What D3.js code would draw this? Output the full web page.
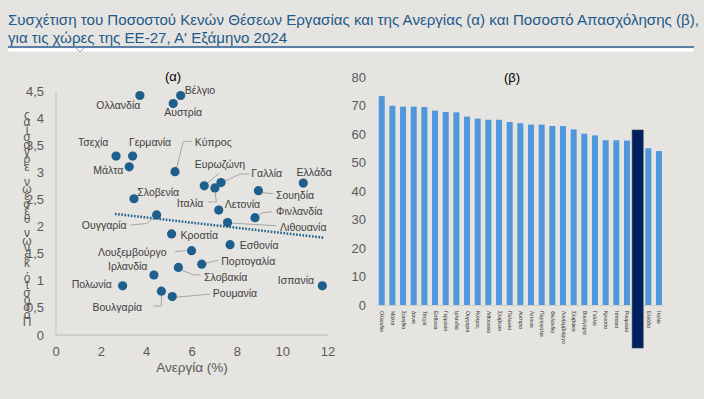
<!DOCTYPE html>
<html>
<head>
<meta charset="utf-8">
<script src="https://cdn.jsdelivr.net/npm/d3@7"></script>
<style>
  body { margin: 0; background: #e5e4e0; }
  svg { display: block; font-family: "Liberation Sans", Arial, sans-serif; }
</style>
</head>
<body>
<svg id="chart" width="704" height="399"></svg>
<script>
// (α) scatter: unemployment (%) vs job vacancy rate (%)
var countries = ["Ολλανδία","Βέλγιο","Αυστρία","Τσεχία","Γερμανία","Μάλτα","Κύπρος","Σλοβενία",
  "Ευρωζώνη","Γαλλία","Ιταλία","Λετονία","Σουηδία","Ελλάδα","Φινλανδία","Λιθουανία","Ουγγαρία",
  "Κροατία","Εσθονία","Λουξεμβούργο","Πορτογαλία","Ιρλανδία","Σλοβακία","Ισπανία","Πολωνία",
  "Βουλγαρία","Ρουμανία"]
var unemployment = [3.7,5.5,5.17,2.65,3.38,3.23,5.25,3.44,6.54,7.28,7.01,7.18,8.93,10.91,8.78,7.57,4.44,
  5.1,7.68,5.98,6.43,4.32,5.4,11.75,2.94,4.65,5.13]
var vacancies = [4.43,4.43,4.28,3.31,3.31,3.11,3.02,2.52,2.76,2.82,2.72,2.31,2.67,2.81,2.17,2.08,2.22,
  1.87,1.67,1.56,1.31,1.11,1.25,0.91,0.91,0.81,0.71]
var trendX = [2.6, 11.8]
var trendY = [2.24, 1.80]
var xTicks = [0,2,4,6,8,10,12]
var yTicks = [0,0.5,1,1.5,2,2.5,3,3.5,4,4.5]

// (β) bars: employment rate
var barLabels = ["Ολλανδία","Μάλτα","Σουηδία","Δανία","Τσεχία","Εσθονία","Γερμανία","Ιρλανδία","Ουγγαρία",
  "Κύπρος","Λιθουανία","Σλοβενία","Πολωνία","Αυστρία","Λετονία","Πορτογαλία","Φινλανδία","Λουξεμβούργο",
  "Σλοβακία","Βουλγαρία","Γαλλία","Κροατία","Ισπανία","Ρουμανία","ΕΕ-27","Ελλάδα","Ιταλία"]
var employment = [73.3,69.9,69.6,69.6,69.5,68.2,67.7,67.6,66.1,65.4,65.0,65.0,64.2,63.8,63.3,63.3,62.8,
  62.8,61.6,60.1,59.5,57.8,57.8,57.7,61.4,55.0,54.0]
var highlight = "ΕΕ-27"
var barTicks = [0,10,20,30,40,50,60,70,80]

// label offsets (px) from each point, and leader paths
var labelLayout = {
  "Ολλανδία": {dx:-21.6, dy:9.5},
  "Βέλγιο": {dx:19.3, dy:-4.8},
  "Αυστρία": {dx:10, dy:8.7},
  "Τσεχία": {dx:-22.8, dy:-13.7},
  "Γερμανία": {dx:17.4, dy:-13.7},
  "Μάλτα": {dx:-20.9, dy:3.2},
  "Κύπρος": {dx:38.3, dy:-29.4, leader:[[1.7,-4],[8.3,-30.4],[16.7,-30.4]]},
  "Σλοβενία": {dx:24.3, dy:-7},
  "Ευρωζώνη": {dx:15.7, dy:-21.8, leader:[[3,-2.5],[14.7,-12.5]]},
  "Γαλλία": {dx:45.7, dy:-9.2, leader:[[1,0],[19,-8.5],[29,-8.5]]},
  "Ιταλία": {dx:-24.9, dy:14.8, leader:[[0,3],[1.5,14],[-7,14]]},
  "Λετονία": {dx:23.7, dy:-5.8},
  "Σουηδία": {dx:36.6, dy:4.4, leader:[[3,2],[15,3]]},
  "Ελλάδα": {dx:11, dy:-10.4},
  "Φινλανδία": {dx:44.3, dy:-6, leader:[[3,-2],[8,-5],[17,-6]]},
  "Λιθουανία": {dx:75.7, dy:4.2, leader:[[2,0.5],[49,3.2]]},
  "Ουγγαρία": {dx:-52.4, dy:10.5, leader:[[-3,3],[-10,8.5],[-26,10]]},
  "Κροατία": {dx:27.7, dy:1},
  "Εσθονία": {dx:29, dy:0},
  "Λουξεμβούργο": {dx:-59.3, dy:2, leader:[[-5,0],[-16.6,1]]},
  "Πορτογαλία": {dx:46.5, dy:-3.2, leader:[[4,-1],[16.5,-4]]},
  "Ιρλανδία": {dx:-26.2, dy:-8.3},
  "Σλοβακία": {dx:47.3, dy:9.3, leader:[[4,3],[15,7.5],[22,7.5]]},
  "Ισπανία": {dx:-26.4, dy:-5.1},
  "Πολωνία": {dx:-30.9, dy:-1.8},
  "Βουλγαρία": {dx:-44.1, dy:15.5, leader:[[0,4],[0,14.8],[-8,14.8]]},
  "Ρουμανία": {dx:62.7, dy:-3.3, leader:[[4.5,0.5],[38,-2.5]]}
}

var svg = d3.select("#chart")
var tickColor = "#595959"
var dotColor = "#1f5f8b"

// title + rule
svg.append("text").attr("x",8).attr("y",25).text("Συσχέτιση του Ποσοστού Κενών Θέσεων Εργασίας και της Ανεργίας (α) και Ποσοστό Απασχόλησης (β),")
  .style("font-size","15.1px").style("fill","#1f5a8c")
svg.append("text").attr("x",8).attr("y",43).text("για τις χώρες της ΕΕ-27, Α' Εξάμηνο 2024")
  .style("font-size","15.1px").style("fill","#1f5a8c")
svg.append("rect").attr("x",8).attr("y",48).attr("width",686).attr("height",4)
  .style("fill","#ffffff").style("stroke","#d8d8d8").style("stroke-width",0.5)
svg.append("line").attr("x1",8).attr("x2",694).attr("y1",47).attr("y2",47)
  .style("stroke","#5b7fa6").style("stroke-width",2)
svg.append("path").attr("d","M76,48 L80,52 L84,48").style("fill","none").style("stroke","#8aa2bd").style("stroke-width",1)

// ---------- (α) scatter ----------
var x = d3.scaleLinear().domain([0,12]).range([56,328])
var y = d3.scaleLinear().domain([0,4.5]).range([335,91.7])

svg.append("line").attr("x1",x(0)).attr("x2",x(0)).attr("y1",y(4.5)).attr("y2",y(0))
  .style("stroke","#c4c4c0").style("stroke-width",1)
svg.append("line").attr("x1",x(0)).attr("x2",x(12)).attr("y1",y(0)).attr("y2",y(0))
  .style("stroke","#c4c4c0").style("stroke-width",1.5)

svg.append("g").selectAll("text").data(xTicks).enter().append("text")
  .attr("x",d => x(d)).attr("y",356).attr("text-anchor","middle").text(d => d)
  .style("font-size","13px").style("fill",tickColor)
svg.append("g").selectAll("text").data(yTicks).enter().append("text")
  .attr("x",44).attr("y",d => y(d)+4.5).attr("text-anchor","end").text(d => String(d).replace(".",","))
  .style("font-size","13px").style("fill",tickColor)

svg.append("text").attr("x",192).attr("y",372).attr("text-anchor","middle").text("Ανεργία (%)")
  .style("font-size","13.5px").style("fill",tickColor)
svg.append("text").attr("x",173).attr("y",81).attr("text-anchor","middle").text("(α)")
  .style("font-size","13px").style("fill","#000")

// y title, squeezed into a column of upright glyphs read bottom-up
var yTitle = "Ποσοστό κενών θέσεων εργασίας"
svg.append("text").attr("x",27).attr("y",108)
  .style("writing-mode","vertical-rl").style("text-orientation","upright")
  .style("letter-spacing","-6.6px")
  .text(yTitle.split("").reverse().join(""))
  .style("font-size","12px").style("fill",tickColor)

// trend
svg.append("line").attr("x1",x(trendX[0])).attr("y1",y(trendY[0])).attr("x2",x(trendX[1])).attr("y2",y(trendY[1]))
  .style("stroke",dotColor).style("stroke-width",2.5).style("stroke-dasharray","1.6,1.6")

var pts = countries.map((c,i) => ({name:c, px:x(unemployment[i]), py:y(vacancies[i]), lay:labelLayout[c]}))

svg.append("g").selectAll("path").data(pts.filter(p => p.lay.leader)).enter().append("path")
  .attr("d", p => d3.line()(p.lay.leader.map(o => [p.px+o[0], p.py+o[1]])))
  .style("fill","none").style("stroke","#a6a6a6").style("stroke-width",1)

svg.append("g").selectAll("circle").data(pts).enter().append("circle")
  .attr("cx",p => p.px).attr("cy",p => p.py).attr("r",4.6).style("fill",dotColor)

svg.append("g").selectAll("text").data(pts).enter().append("text")
  .attr("x",p => p.px + p.lay.dx).attr("y",p => p.py + p.lay.dy + 3.8).attr("text-anchor","middle")
  .text(p => p.name).style("font-size","10.5px").style("fill","#404040")

// ---------- (β) bars ----------
var xb = d3.scaleBand().domain(barLabels).range([376.4,664.3]).paddingInner(0.44).paddingOuter(0.22)
var yb = d3.scaleLinear().domain([0,80]).range([305,77])

svg.append("g").selectAll("text").data(barTicks).enter().append("text")
  .attr("x",366).attr("y",d => yb(d)+4.5).attr("text-anchor","end").text(d => d)
  .style("font-size","13px").style("fill",tickColor)
svg.append("text").attr("x",512).attr("y",82).attr("text-anchor","middle").text("(β)")
  .style("font-size","13px").style("fill","#000")

svg.append("line").attr("x1",376).attr("x2",665).attr("y1",yb(0)+0.5).attr("y2",yb(0)+0.5)
  .style("stroke","#d0d0cc").style("stroke-width",1)

svg.append("g").selectAll("rect").data(barLabels.filter(l => l != highlight)).enter().append("rect")
  .attr("x",d => xb(d)).attr("width",xb.bandwidth())
  .attr("y",d => yb(employment[barLabels.indexOf(d)]))
  .attr("height",d => yb(0) - yb(employment[barLabels.indexOf(d)]))
  .style("fill","#5097dc")

// sideways tiny country labels
svg.append("g").selectAll("text").data(barLabels).enter().append("text")
  .attr("transform",d => `translate(${xb(d)+xb.bandwidth()/2-1.5},${yb(0)+6}) rotate(90)`)
  .text(d => d).style("font-size","5px").style("fill","#303030")

// highlighted bar drawn over its label, reaching into the label area
var hi = barLabels.indexOf(highlight)
var hw = xb.bandwidth()*1.85
svg.append("rect").attr("x",xb(highlight)+xb.bandwidth()/2-hw/2).attr("width",hw)
  .attr("y",yb(employment[hi])).attr("height",yb(0) + 43 - yb(employment[hi]))
  .style("fill","#002060").style("stroke","#3a3a3a").style("stroke-width",0.6)
</script>
</body>
</html>
